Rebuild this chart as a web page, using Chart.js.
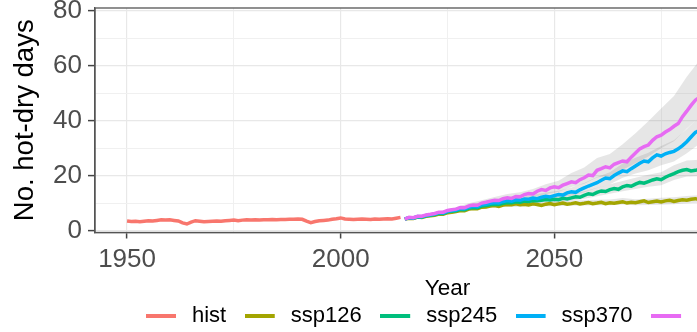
<!DOCTYPE html>
<html><head><meta charset="utf-8">
<script src="https://cdn.jsdelivr.net/npm/chart.js@4.4.1/dist/chart.umd.min.js"></script>
<style>
html,body{margin:0;padding:0;overflow:hidden;background:#fff;width:697px;height:332px}
#wrap{position:absolute;left:0;top:0;width:914px;height:332px}
</style>
</head><body><div id="wrap"><canvas id="c"></canvas></div>
<script>
// ---- data ----
const seriesNames = ['hist', 'ssp126', 'ssp245', 'ssp370', 'ssp585'];
const seriesColors = ['#F8766D', '#A3A500', '#00BF7D', '#00B0F6', '#E76BF3'];

const histStart = 1950; // annual values 1950..2014
const hist = [3.6,3.4,3.5,3.3,3.5,3.7,3.6,3.8,4.0,3.9,4.0,3.8,3.6,2.9,2.5,3.2,3.7,3.5,3.3,3.4,
  3.5,3.6,3.5,3.7,3.8,3.9,3.7,3.9,4.0,3.9,4.0,3.9,4.0,4.0,4.1,4.0,4.1,4.1,4.2,4.2,
  4.3,4.2,3.5,3.0,3.4,3.7,3.8,3.9,4.2,4.4,4.7,4.3,4.2,4.1,4.2,4.3,4.2,4.1,4.3,4.2,
  4.3,4.4,4.3,4.6,4.9];

const sspStart = 2015; // annual values 2015..2087
const ssp126 = [4.3,4.6,4.5,5.0,4.9,5.3,5.5,5.7,6.1,6.0,6.6,6.8,7.0,7.4,7.3,7.9,8.1,8.0,8.6,8.7,
  9.0,9.2,8.9,9.4,9.6,9.5,9.8,9.5,9.7,9.4,9.8,9.6,9.2,9.7,9.9,9.5,9.8,10.1,9.7,9.9,
  10.2,9.8,10.0,10.3,9.9,10.1,10.4,9.9,10.2,10.0,10.3,10.6,10.1,10.4,10.2,10.6,10.9,10.3,10.6,10.8,
  10.5,10.9,11.1,10.7,11.0,11.3,11.1,11.5,11.7,11.3,11.6,11.4,11.7];
const ssp245 = [4.3,4.7,4.6,5.1,5.0,5.5,5.7,5.9,6.4,6.3,6.9,7.1,7.3,7.8,7.7,8.3,8.5,8.4,9.0,9.2,
  9.5,9.7,9.6,10.0,10.3,10.2,10.6,10.4,10.8,10.7,11.0,10.9,11.1,11.4,11.2,11.5,11.3,11.8,11.6,12.0,
  12.4,12.2,12.9,13.5,13.2,14.0,14.5,14.3,15.0,15.4,15.1,16.0,16.5,16.2,17.0,17.6,17.3,17.9,18.5,18.9,
  18.6,19.5,20.2,20.8,21.5,22.0,22.3,21.8,22.0,22.4,22.1,22.6,22.9];
const ssp370 = [4.3,4.8,4.7,5.2,5.1,5.6,5.8,6.1,6.6,6.5,7.1,7.4,7.6,8.1,8.0,8.6,8.9,8.8,9.5,9.7,
  10.0,10.3,10.1,10.7,11.0,10.8,11.3,11.1,11.6,11.5,11.9,11.7,12.2,12.6,12.3,12.8,13.2,13.0,13.8,14.2,
  14.0,14.9,15.6,16.3,16.9,17.5,18.4,19.2,19.0,20.1,21.0,21.8,21.5,22.6,23.6,24.6,25.4,25.1,26.5,27.6,
  27.2,28.0,28.5,28.9,29.8,31.0,32.4,34.1,35.8,36.5,37.6,38.4,39.5];
const ssp585 = [4.3,4.9,4.8,5.3,5.3,5.8,6.0,6.3,6.8,6.8,7.4,7.7,7.9,8.5,8.4,9.1,9.4,9.3,10.1,10.4,
  10.8,11.1,11.0,11.7,12.0,11.8,12.5,12.4,13.2,13.6,13.4,14.4,15.0,14.7,15.6,16.0,15.7,16.6,17.2,17.8,
  17.5,18.6,19.3,20.3,20.1,22.0,22.6,23.3,22.9,24.2,24.8,25.4,25.1,26.8,28.3,29.8,30.6,31.2,32.9,34.2,
  34.8,35.9,36.8,38.0,39.0,41.5,43.5,45.6,47.5,48.6,49.8,51.2,52.5];

// ensemble ranges (grey ribbons), every 3 years 2015..2087
const ribbonStart = 2015, ribbonStep = 3;
const lower126 = [4.1,4.7,5.2,5.6,6.5,7.3,7.9,8.5,8.8,8.7,9.0,8.9,9.0,9.1,9.2,9.3,9.3,9.6,9.3,9.4,9.5,9.7,10.0,10.2,10.5];
const upper126 = [4.5,5.3,5.9,6.5,7.5,8.5,9.3,10.0,10.4,10.4,10.7,10.6,10.8,10.9,11.1,11.3,11.4,11.9,11.5,11.7,12.0,12.2,12.7,12.9,13.3];
const lower245 = [4.1,4.8,5.3,5.9,6.8,7.7,8.4,9.0,9.5,9.6,10.1,10.4,10.3,10.9,11.7,12.6,13.5,14.4,15.2,16.0,16.6,18.5,19.8,19.9,20.3];
const upper245 = [4.5,5.4,6.1,6.8,7.9,8.9,9.7,10.5,11.2,11.4,12.1,12.6,12.6,13.4,14.4,15.7,16.9,18.1,19.3,20.4,21.3,23.8,25.6,25.8,26.5];
const lower370 = [4.1,4.9,5.4,6.1,7.1,8.0,8.8,9.5,10.1,10.2,10.9,11.5,12.0,12.8,14.0,15.6,16.9,19.3,20.8,22.0,23.8,25.2,28.2,31.7,34.2];
const upper370 = [4.5,5.5,6.3,7.0,8.2,9.3,10.3,11.2,12.0,12.2,13.1,13.9,14.6,15.8,17.4,19.6,21.3,24.5,26.6,28.4,30.8,32.9,37.0,41.6,45.2];
const lower585 = [4.1,5.0,5.6,6.3,7.3,8.4,9.3,10.2,11.0,11.3,12.2,13.3,14.2,15.9,17.1,19.4,20.1,22.2,24.6,27.0,30.0,32.6,37.2,41.5,44.7];
const upper585 = [4.5,5.7,6.5,7.4,8.6,10.0,11.1,12.3,13.4,14.0,15.2,16.9,18.2,21.0,23.0,26.5,27.9,31.5,35.5,39.8,44.5,49.0,56.0,62.0,66.5];

const xMajorTicks = [1950, 2000, 2050, 2100];
const xMinorTicks = [1975, 2025, 2075];
const yMajorTicks = [0, 20, 40, 60, 80];
const yMinorTicks = [10, 30, 50, 70];

// ---- build ----
const FONT = "'Liberation Sans', Arial, Helvetica, sans-serif";
const toXY = (vals, start, step) => vals.map((v, i) => ({x: start + i * (step || 1), y: v}));

const ribbonFill = 'rgba(128,128,128,0.2)';
const ribbonPairs = [[upper126, lower126], [upper245, lower245], [upper370, lower370], [upper585, lower585]];
const datasets = [];
const lineSets = [hist, ssp126, ssp245, ssp370, ssp585];
lineSets.forEach((vals, k) => {
  datasets.push({
    label: seriesNames[k],
    data: toXY(vals, k === 0 ? histStart : sspStart),
    borderColor: seriesColors[k], backgroundColor: seriesColors[k],
    borderWidth: 3.5, pointRadius: 0, tension: 0, fill: false,
    order: 6 - k
  });
});
ribbonPairs.forEach(([up, lo]) => {
  const idx = datasets.length;
  datasets.push({label: 'ribbon', ribbon: true, data: toXY(up, ribbonStart, ribbonStep),
    borderWidth: 0, pointRadius: 0, backgroundColor: ribbonFill, fill: idx + 1, order: 20});
  datasets.push({label: 'ribbon', ribbon: true, data: toXY(lo, ribbonStart, ribbonStep),
    borderWidth: 0, pointRadius: 0, backgroundColor: ribbonFill, fill: false, order: 20});
});

// legend key: 30px coloured line followed by a small gap
function makeSwatch(color) {
  const c = document.createElement('canvas');
  c.width = 35; c.height = 4;
  const g = c.getContext('2d');
  g.fillStyle = color; g.fillRect(0, 0, 30, 4);
  return c;
}
const swatches = seriesColors.map(makeSwatch);

const panelBorder = {
  id: 'panelBorder',
  afterDatasetsDraw(chart) {
    const {ctx, chartArea: a} = chart;
    ctx.save();
    ctx.strokeStyle = '#555'; ctx.lineWidth = 1.3;
    ctx.strokeRect(a.left, a.top, a.right - a.left, a.bottom - a.top);
    ctx.restore();
  }
};

const isIn = (arr, v) => arr.some(t => Math.abs(t - v) < 1e-6);

new Chart(document.getElementById('c'), {
  type: 'line',
  data: {datasets},
  plugins: [panelBorder],
  options: {
    responsive: true, maintainAspectRatio: false, animation: false, devicePixelRatio: 1,
    layout: {padding: {left: 0, right: 0, top: 8, bottom: -5}},
    scales: {
      x: {
        type: 'linear', min: 1942.5, max: 2107.5,
        afterBuildTicks: s => { s.ticks = xMajorTicks.concat(xMinorTicks).sort((a,b)=>a-b)
            .filter(v => v >= s.min && v <= s.max).map(v => ({value: v})); },
        afterFit: s => { s.height = 54; },
        ticks: {autoSkip: false, maxRotation: 0, padding: 8, color: '#4d4d4d',
          font: {family: FONT, size: 26, lineHeight: 1.0},
          callback: v => isIn(xMajorTicks, v) ? String(v) : ''},
        grid: {
          color: c => isIn(xMajorTicks, c.tick.value) ? '#e8e8e8' : '#f0f0f0',
          lineWidth: c => isIn(xMajorTicks, c.tick.value) ? 1.2 : 1,
          tickColor: c => isIn(xMajorTicks, c.tick.value) ? '#444' : 'rgba(0,0,0,0)',
          tickLength: 6, tickWidth: 1.5
        },
        border: {display: true, color: '#555', width: 1.3},
        title: {display: true, text: 'Year', color: '#000',
          font: {family: FONT, size: 22.5}, padding: {top: 0, bottom: -16}}
      },
      y: {
        type: 'linear', min: -0.6, max: 81,
        afterBuildTicks: s => { s.ticks = yMajorTicks.concat(yMinorTicks).sort((a,b)=>a-b).map(v => ({value: v})); },
        afterFit: s => { s.width = 95; },
        ticks: {padding: 6, color: '#4d4d4d', font: {family: FONT, size: 26, lineHeight: 0.05},
          callback: v => isIn(yMajorTicks, v) ? String(v) : ''},
        grid: {
          color: c => isIn(yMajorTicks, c.tick.value) ? '#e8e8e8' : '#f0f0f0',
          lineWidth: c => isIn(yMajorTicks, c.tick.value) ? 1.2 : 1,
          tickColor: c => isIn(yMajorTicks, c.tick.value) ? '#444' : 'rgba(0,0,0,0)',
          tickLength: 7, tickWidth: 1.5
        },
        border: {display: true, color: '#555', width: 1.3},
        title: {display: true, text: 'No. hot-dry days', color: '#000',
          font: {family: FONT, size: 27.5}, padding: {top: 9, bottom: 0}}
      },
      // empty right-hand strip (the rest of the original figure, outside the crop)
      yRight: {
        position: 'right', display: true, min: 0, max: 1,
        ticks: {display: false}, grid: {display: false, drawOnChartArea: false, drawTicks: false},
        border: {display: false}, title: {display: false},
        afterFit: s => { s.width = 114; }
      }
    },
    plugins: {
      tooltip: {enabled: false},
      legend: {
        position: 'bottom',
        labels: {
          font: {family: FONT, size: 22}, color: '#000',
          usePointStyle: true, pointStyleWidth: 35, padding: 18.5,
          sort: (a, b) => a.datasetIndex - b.datasetIndex,
          generateLabels: chart => Chart.defaults.plugins.legend.labels.generateLabels(chart)
            .map(l => Object.assign(l, {lineWidth: 0, pointStyle: swatches[l.datasetIndex] || l.pointStyle})),
          filter: (item, data) => !data.datasets[item.datasetIndex].ribbon
        }
      }
    }
  }
});
</script>
</body></html>
